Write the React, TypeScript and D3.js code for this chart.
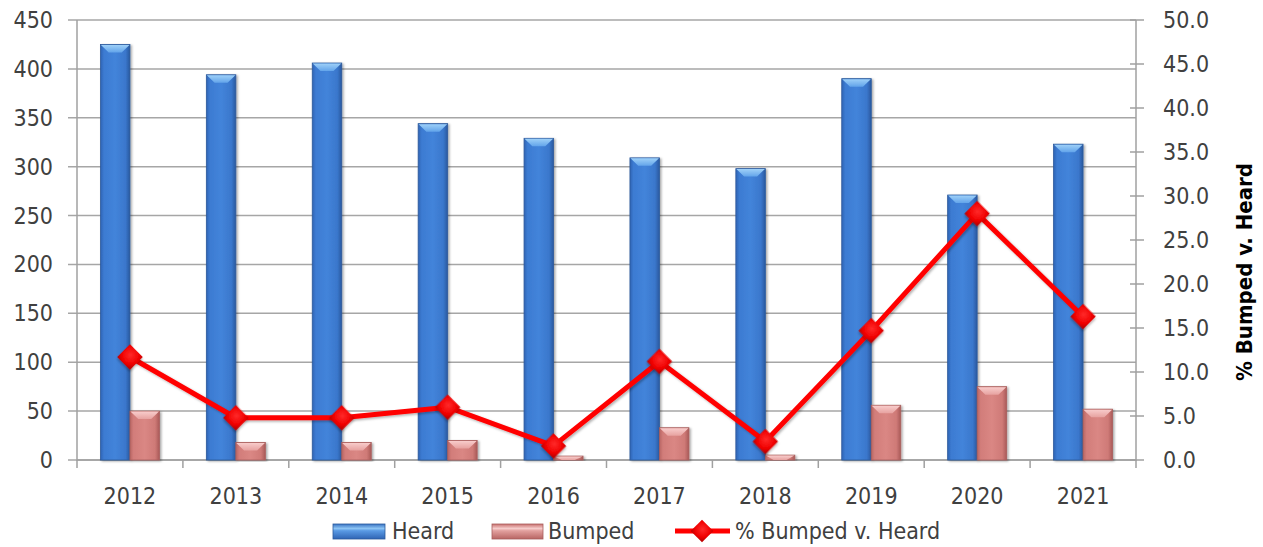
import React from "react";
import * as d3 from "d3";

const years = ["2012", "2013", "2014", "2015", "2016", "2017", "2018", "2019", "2020", "2021"];
const heard = [425, 394, 406, 344, 329, 309, 298, 390, 271, 323];
const bumped = [50, 18, 18, 20, 4, 33, 5, 56, 75, 52];
const pctBumped = [11.7, 4.8, 4.8, 6.0, 1.6, 11.2, 2.1, 14.7, 28.0, 16.3];
const leftTicks = [0, 50, 100, 150, 200, 250, 300, 350, 400, 450];
const rightTicks = [0, 5, 10, 15, 20, 25, 30, 35, 40, 45, 50];
const seriesNames = ["Heard", "Bumped"];

const W = 1263;
const H = 547;
const L = 77;
const R = 1136;
const T = 20;
const B = 460;
const FONT = "'DejaVu Sans Condensed', 'DejaVu Sans', sans-serif";
const TXT = "#404040";

export default function App() {
  const x = d3.scaleBand<string>().domain(years).range([L, R]).padding(0);
  const bw = 29.5;
  const sub = d3.scaleBand<string>().domain(seriesNames).range([-bw, bw]).padding(0);
  const yL = d3.scaleLinear().domain([0, 450]).range([B, T]);
  const yR = d3.scaleLinear().domain([0, 50]).range([B, T]);
  const cx = (i: number) => (x(years[i]) as number) + x.bandwidth() / 2;

  const line = d3
    .line<number>()
    .x((_, i) => cx(i))
    .y((d) => yR(d));

  const bar = (key: string, i: number, v: number, kind: "blue" | "pink") => {
    const bx = cx(i) + (sub(key) as number);
    const w = sub.bandwidth();
    const by = yL(v);
    const h = B - by;
    const bev = Math.min(8, h);
    const inset = w * 0.28;
    return (
      <g key={key + i} filter="url(#shadow)">
        <rect x={bx} y={by} width={w} height={h} fill={`url(#${kind}Grad)`} stroke={kind === "blue" ? "#2c5a9c" : "#a85e5c"} strokeWidth={0.8} />
        {h > 2 && (
          <polygon
            points={`${bx + 0.5},${by + 0.5} ${bx + w - 0.5},${by + 0.5} ${bx + w - inset},${by + bev} ${bx + inset},${by + bev}`}
            fill={`url(#${kind}Top)`}
          />
        )}
      </g>
    );
  };

  const legendY = 531;

  return (
    <svg width={W} height={H} style={{ position: "absolute", left: 0, top: 0, display: "block", background: "#fff" }} fontFamily={FONT}>
      <defs>
        <linearGradient id="blueGrad" x1="0" x2="1" y1="0" y2="0">
          <stop offset="0" stopColor="#2f64b4" />
          <stop offset="0.12" stopColor="#3c7bd2" />
          <stop offset="0.5" stopColor="#4384da" />
          <stop offset="0.85" stopColor="#3a77cc" />
          <stop offset="1" stopColor="#2a599f" />
        </linearGradient>
        <linearGradient id="blueTop" x1="0" x2="0" y1="0" y2="1">
          <stop offset="0" stopColor="#9ed0f8" />
          <stop offset="1" stopColor="#62a4ea" />
        </linearGradient>
        <linearGradient id="blueLeg" x1="0" x2="0" y1="0" y2="1">
          <stop offset="0" stopColor="#3a74c4" />
          <stop offset="0.3" stopColor="#8cc4f4" />
          <stop offset="0.45" stopColor="#5a9ae4" />
          <stop offset="1" stopColor="#2f64b4" />
        </linearGradient>
        <linearGradient id="pinkGrad" x1="0" x2="1" y1="0" y2="0">
          <stop offset="0" stopColor="#b86563" />
          <stop offset="0.12" stopColor="#d27d7a" />
          <stop offset="0.5" stopColor="#da8784" />
          <stop offset="0.85" stopColor="#cf7a77" />
          <stop offset="1" stopColor="#a95a58" />
        </linearGradient>
        <linearGradient id="pinkTop" x1="0" x2="0" y1="0" y2="1">
          <stop offset="0" stopColor="#f8cccb" />
          <stop offset="1" stopColor="#e7a2a0" />
        </linearGradient>
        <linearGradient id="pinkLeg" x1="0" x2="0" y1="0" y2="1">
          <stop offset="0" stopColor="#c8706e" />
          <stop offset="0.3" stopColor="#f6cccb" />
          <stop offset="0.45" stopColor="#e2a09e" />
          <stop offset="1" stopColor="#b86563" />
        </linearGradient>
        <radialGradient id="diamond" cx="0.45" cy="0.4" r="0.7">
          <stop offset="0" stopColor="#ff2a2a" />
          <stop offset="0.7" stopColor="#f00000" />
          <stop offset="1" stopColor="#c00000" />
        </radialGradient>
        <filter id="shadow" x="-20%" y="-5%" width="150%" height="115%">
          <feDropShadow dx="1.5" dy="1" stdDeviation="1.2" floodColor="#000" floodOpacity="0.35" />
        </filter>
        <filter id="lshadow" x="-10%" y="-10%" width="130%" height="130%">
          <feDropShadow dx="1.5" dy="1.5" stdDeviation="1.2" floodColor="#000" floodOpacity="0.3" />
        </filter>
      </defs>

      {/* gridlines */}
      {leftTicks.map((t) => (
        <line key={"g" + t} x1={L - 9} x2={R} y1={yL(t)} y2={yL(t)} stroke="#a6a6a6" strokeWidth={1.5} />
      ))}
      {/* left axis */}
      <line x1={L} x2={L} y1={T} y2={B + 1} stroke="#a0a0a0" strokeWidth={1.5} />
      {leftTicks.map((t) => (
        <text key={"lt" + t} x={53} y={yL(t)} dy="0.35em" textAnchor="end" fontSize={23} fill={TXT}>
          {t}
        </text>
      ))}
      {/* right axis */}
      <line x1={R} x2={R} y1={T} y2={B + 1} stroke="#a0a0a0" strokeWidth={1.5} />
      {rightTicks.map((t) => (
        <g key={"rt" + t}>
          <line x1={R - 6} x2={R + 8} y1={yR(t)} y2={yR(t)} stroke="#a0a0a0" strokeWidth={1.5} />
          <text x={1163} y={yR(t)} dy="0.35em" textAnchor="start" fontSize={23} fill={TXT}>
            {t.toFixed(1)}
          </text>
        </g>
      ))}
      <text
        transform={`translate(1252,272) rotate(-90)`}
        textAnchor="middle"
        fontSize={22}
        fontWeight="bold"
        fill="#000"
      >
        % Bumped v. Heard
      </text>

      {/* x axis */}
      <line x1={L} x2={R} y1={B} y2={B} stroke="#a0a0a0" strokeWidth={1.5} />
      {years.map((yr, i) => (
        <g key={"x" + yr}>
          <line x1={x(yr) as number} x2={x(yr) as number} y1={B} y2={B + 8} stroke="#a0a0a0" strokeWidth={1.5} />
          <text x={cx(i)} y={504} textAnchor="middle" fontSize={23} fill={TXT}>
            {yr}
          </text>
        </g>
      ))}
      <line x1={R} x2={R} y1={B} y2={B + 8} stroke="#a0a0a0" strokeWidth={1.5} />

      {/* bars */}
      {heard.map((v, i) => bar("Heard", i, v, "blue"))}
      {bumped.map((v, i) => bar("Bumped", i, v, "pink"))}

      {/* line */}
      <path d={line(pctBumped) || ""} fill="none" stroke="#ff0000" strokeWidth={5} strokeLinejoin="round" filter="url(#lshadow)" />
      {pctBumped.map((v, i) => (
        <rect
          key={"m" + i}
          x={cx(i) - 9}
          y={yR(v) - 9}
          width={18}
          height={18}
          transform={`rotate(45 ${cx(i)} ${yR(v)})`}
          fill="url(#diamond)"
          filter="url(#lshadow)"
        />
      ))}

      {/* legend */}
      <g>
        <rect x={333} y={legendY - 7} width={52} height={15} fill="url(#blueLeg)" stroke="#2c5a9c" strokeWidth={0.8} />
        <text x={392} y={legendY + 8} fontSize={23} fill={TXT}>Heard</text>
        <rect x={492} y={legendY - 7} width={51} height={15} fill="url(#pinkLeg)" stroke="#a85e5c" strokeWidth={0.8} />
        <text x={548} y={legendY + 8} fontSize={23} fill={TXT}>Bumped</text>
        <line x1={675} x2={730} y1={legendY} y2={legendY} stroke="#ff0000" strokeWidth={5} />
        <rect x={702 - 8} y={legendY - 8} width={16} height={16} transform={`rotate(45 702 ${legendY})`} fill="url(#diamond)" />
        <text x={735} y={legendY + 8} fontSize={23} fill={TXT}>% Bumped v. Heard</text>
      </g>
    </svg>
  );
}
